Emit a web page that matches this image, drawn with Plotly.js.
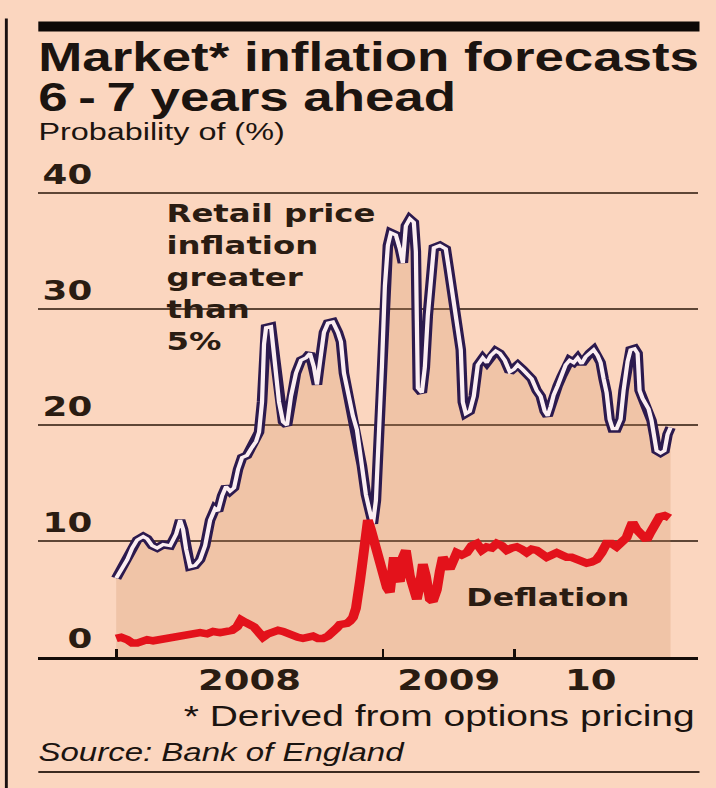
<!DOCTYPE html>
<html>
<head>
<meta charset="utf-8">
<script src="https://cdn.plot.ly/plotly-3.0.1.min.js"></script>
<style>
  html, body { margin:0; padding:0; background:#fbd6bf; overflow:hidden; width:716px; height:788px; }
  #chart { width:542px; height:788px; transform: scaleX(1.32103); transform-origin: 0 0; }
</style>
</head>
<body>
<div id="chart"></div>
<script>
// ---- data (time index: weeks from start of series) ----
const rpiT = [0,1,2.2,3.2,4.2,5.4,6.2,7.2,8.2,9.4,10.8,12,12.8,13.4,14,14.8,15.8,16.8,17.8,18.8,19.8,20.4,21.2,22,22.8,23.6,24.4,25.2,26.2,27.2,28,28.6,29.2,29.6,30,31,31.6,32,32.6,33.4,34.2,35,36,37,38,38.8,39.6,40.2,40.8,41.6,42.4,43.4,44.4,45,45.6,46.4,47.4,48.2,49.2,50,50.8,51.4,52,52.6,53.2,53.8,54.4,55,56,56.8,57.4,58,58.8,59.6,60,60.2,60.4,61.2,61.8,62.4,63,63.6,64.8,66,66.6,67.4,68.2,69,69.4,70,70.8,71.6,72.4,73.4,74.2,75,76,76.8,77.8,78.8,79.6,80.4,81.4,82.2,83.2,84.2,85,85.8,86.4,87,87.6,88.4,89.2,90,90.8,91.6,92.4,93.2,94,94.8,95.6,96.4,97,97.6,98.2,98.8,99.4,100.2,101,101.6,102.4,103,103.8,104.4,104.8,105.4,106,106.6,107.2,107.8,108.2,109,109.8,110.4,111];
const rpiAbove5 = [6.8,7.5,8.4,9.4,10.1,10.4,10.2,9.6,9.4,9.7,9.6,10.6,11.8,11.0,9.3,7.8,7.9,8.4,9.6,11.8,12.8,12.6,13.9,14.7,14.3,14.6,16.2,17.2,17.4,18.1,18.6,19.4,22.0,27.0,28.4,28.5,26.0,24.5,22.0,20.3,20.0,22.5,24.5,25.6,25.8,26.2,25.0,23.5,25.5,28.0,28.8,28.9,28.0,27.2,24.5,22.8,20.8,19.6,16.5,14.0,12.5,11.5,13.5,18.5,25.0,32.0,35.5,36.6,36.4,35.2,34.0,37.2,37.8,37.5,35.0,29.0,23.2,22.8,25.0,29.5,32.5,35.3,35.5,35.2,33.5,31.0,29.0,26.5,22.0,21.0,21.2,22.5,25.2,25.8,25.4,26.0,26.4,26.2,25.6,24.6,24.8,25.2,24.8,24.4,24.0,23.0,22.5,21.2,20.8,21.6,22.6,23.4,24.2,25.2,25.6,25.4,25.8,25.3,25.9,26.2,26.5,26.0,25.4,24.0,22.8,20.5,19.7,19.7,20.5,23.0,25.5,26.5,26.6,26.2,23.0,22.3,21.8,21.4,20.4,19.0,17.8,17.6,17.8,19.2,19.8];

const defT = [0,1,2.2,3.2,4.2,5.2,6.2,7.4,8.8,10.2,11.4,12.8,14.2,15.4,16.8,18.2,19.4,20.8,22.2,23.2,24.2,25,25.8,26.8,27.6,28.4,29.4,30.4,31.4,32.4,33.4,34.4,35.4,36.4,37.4,38.4,39.4,40.4,41.4,42.4,43.4,44.2,44.8,45.6,46.2,46.8,47.4,48,48.4,48.8,49.2,49.6,50,50.4,51,51.6,52.2,52.8,53.6,54.2,54.8,55.2,55.6,56.2,56.8,57.4,58,58.8,59.4,60.2,60.8,61.4,62,62.8,63.4,64.2,64.8,65.4,66.2,66.8,67.6,68.2,69.2,70.2,71.2,72.2,73.2,74.2,75.2,76.2,77.2,78.2,79.2,80.2,81.2,82.2,83.2,84.2,85.2,86.2,87.2,88.2,89.2,90.2,91.2,92.2,93.2,94.2,95.2,96.2,97.2,98.2,99.2,100.2,101.2,102.2,102.8,103.4,104.2,104.8,105.6,106.2,106.8,107.4,108.2,108.8,109.8,110.8];
const deflation = [1.6,1.7,1.5,1.2,1.2,1.4,1.5,1.4,1.5,1.6,1.7,1.8,1.9,2.0,2.1,2.0,2.2,2.1,2.2,2.3,2.6,3.2,3.0,2.8,2.6,2.2,1.7,2.0,2.2,2.3,2.2,2.0,1.9,1.7,1.6,1.7,1.8,1.6,1.6,1.8,2.1,2.5,2.8,2.8,2.9,3.1,3.4,4.2,5.0,6.5,7.8,10.0,11.5,11.8,11.0,10.0,9.2,8.6,7.2,6.0,5.6,7.5,8.6,7.0,6.5,8.6,9.2,7.0,5.8,5.0,6.2,8.0,7.0,5.0,4.8,5.8,7.4,8.6,8.0,7.6,8.4,9.0,8.8,9.0,9.6,9.8,9.2,9.5,9.4,9.8,9.6,9.2,9.4,9.5,9.3,9.0,9.3,9.2,8.9,8.6,8.8,9.0,8.8,8.6,8.6,8.4,8.2,8.1,8.2,8.4,9.0,9.8,9.8,9.5,9.9,10.3,11.0,11.6,11.0,10.7,10.3,10.1,10.6,11.2,11.8,12.1,12.2,12.0];

const yearStarts = [0, 53.4, 79.8];
const yearLabelPos = [26.7, 66.6, 95.0];
const yearLabels = ['2008', '2009', '10'];
const yTickVals = [0, 10, 20, 30, 40];
const yTickText = ['0', '10', '20', '30', '40'];
const rpiLabelLines = ['Retail price', 'inflation', 'greater', 'than', '5%'];

// ---- layout helpers (real-pixel positions -> paper) ----
const S = 716 / 542;
const PL = 38, PR = 698, PB = 657, PT = 190.7;
const px2x = p => (p - PL) / (PR - PL);
const py2y = p => (PB - p) / (PB - PT);

const BG = '#fbd6bf';
const INK = '#1b1410';
const TXT = '#2a1c12';
const SANS = 'Liberation Sans, Arial, sans-serif';
const WIDE = 'DejaVu Sans';

const traces = [
  { x: rpiT, y: rpiAbove5, mode: 'lines', line: { width: 0 }, fill: 'tozeroy',
    fillcolor: 'rgba(205,140,90,0.24)', hoverinfo: 'skip', showlegend: false },
  { x: rpiT, y: rpiAbove5, mode: 'lines', line: { color: '#2c1a4e', width: 8 },
    showlegend: false, name: 'RPI > 5%' },
  { x: rpiT, y: rpiAbove5, mode: 'lines', line: { color: '#fbeef2', width: 3.2 },
    showlegend: false, hoverinfo: 'skip' },
  { x: defT, y: deflation, mode: 'lines', line: { color: '#e3121b', width: 7.5 },
    showlegend: false, name: 'Deflation' }
];

const annotations = [
  { text: 'Market* inflation forecasts', x: 0, y: py2y(57), font: { family: SANS, size: 40, weight: 'bold', color: INK } },
  { text: '6\u2009-\u20097 years ahead', x: 0, y: py2y(97), font: { family: SANS, size: 40, weight: 'bold', color: INK } },
  { text: 'Probability of (%)', x: 0, y: py2y(131), font: { family: SANS, size: 24.5, color: INK } },
  { text: 'Deflation', x: px2x(466), y: py2y(598), font: { family: WIDE, size: 24, weight: 'bold', color: TXT } },
  { text: '* Derived from options pricing', x: 1, xanchor: 'right', y: py2y(716), font: { family: SANS, size: 29.5, color: INK } },
  { text: '<i>Source: Bank of England</i>', x: 0, y: py2y(752), font: { family: SANS, size: 25, color: INK } }
];
rpiLabelLines.forEach((t, i) => {
  annotations.push({ text: t, x: px2x(166), y: py2y(213 + 32 * i), font: { family: WIDE, size: 24.5, weight: 'bold', color: TXT } });
});
annotations.forEach(a => {
  a.xref = 'paper'; a.yref = 'paper'; a.showarrow = false;
  if (!a.xanchor) { a.xanchor = 'left'; a.xshift = -2; }
  a.yanchor = 'middle';
});

const shapes = [
  { type: 'rect', xref: 'paper', yref: 'paper', x0: 0, x1: px2x(700), y0: py2y(31), y1: py2y(21), fillcolor: '#0d0806', line: { width: 0 } },
  { type: 'line', xref: 'paper', yref: 'paper', x0: px2x(6), x1: px2x(6), y0: py2y(18), y1: py2y(792), line: { color: '#1a1010', width: 2.2 } },
  { type: 'line', xref: 'paper', yref: 'paper', x0: 0, x1: px2x(700), y0: py2y(772), y1: py2y(772), line: { color: '#3b2a20', width: 2 } },
  { type: 'rect', xref: 'paper', yref: 'y', x0: px2x(147), x1: px2x(290), y0: 29.4, y1: 30.6, fillcolor: BG, line: { width: 0 }, layer: 'between' }
];

const layout = {
  width: 542, height: 788,
  paper_bgcolor: BG, plot_bgcolor: BG,
  margin: { l: PL / S, r: 542 - PR / S, t: PT, b: 788 - PB },
  showlegend: false,
  xaxis: {
    range: [-15.6, 116.4], tickmode: 'array', tickvals: yearLabelPos, ticktext: yearLabels,
    ticks: '', showgrid: false, zeroline: false, showline: true, linecolor: '#140c08', linewidth: 3,
    tickfont: { family: WIDE, size: 28, weight: 'bold', color: TXT },
    ticklabelstandoff: -4,
    minor: { tickmode: 'array', tickvals: yearStarts, ticks: 'inside', ticklen: 8, tickwidth: 2, tickcolor: '#140c08', showgrid: false },
    fixedrange: true
  },
  yaxis: {
    range: [0, 40.2], tickmode: 'array', tickvals: yTickVals, ticktext: yTickText,
    showgrid: true, gridcolor: '#5e4636', gridwidth: 2, zeroline: false, showline: false, ticks: '',
    anchor: 'free', position: px2x(92), ticklabelposition: 'outside top',
    tickfont: { family: WIDE, size: 27, weight: 'bold', color: TXT },
    fixedrange: true
  },
  annotations: annotations,
  shapes: shapes
};

Plotly.newPlot('chart', traces, layout, { displayModeBar: false, staticPlot: true });
</script>
</body>
</html>
